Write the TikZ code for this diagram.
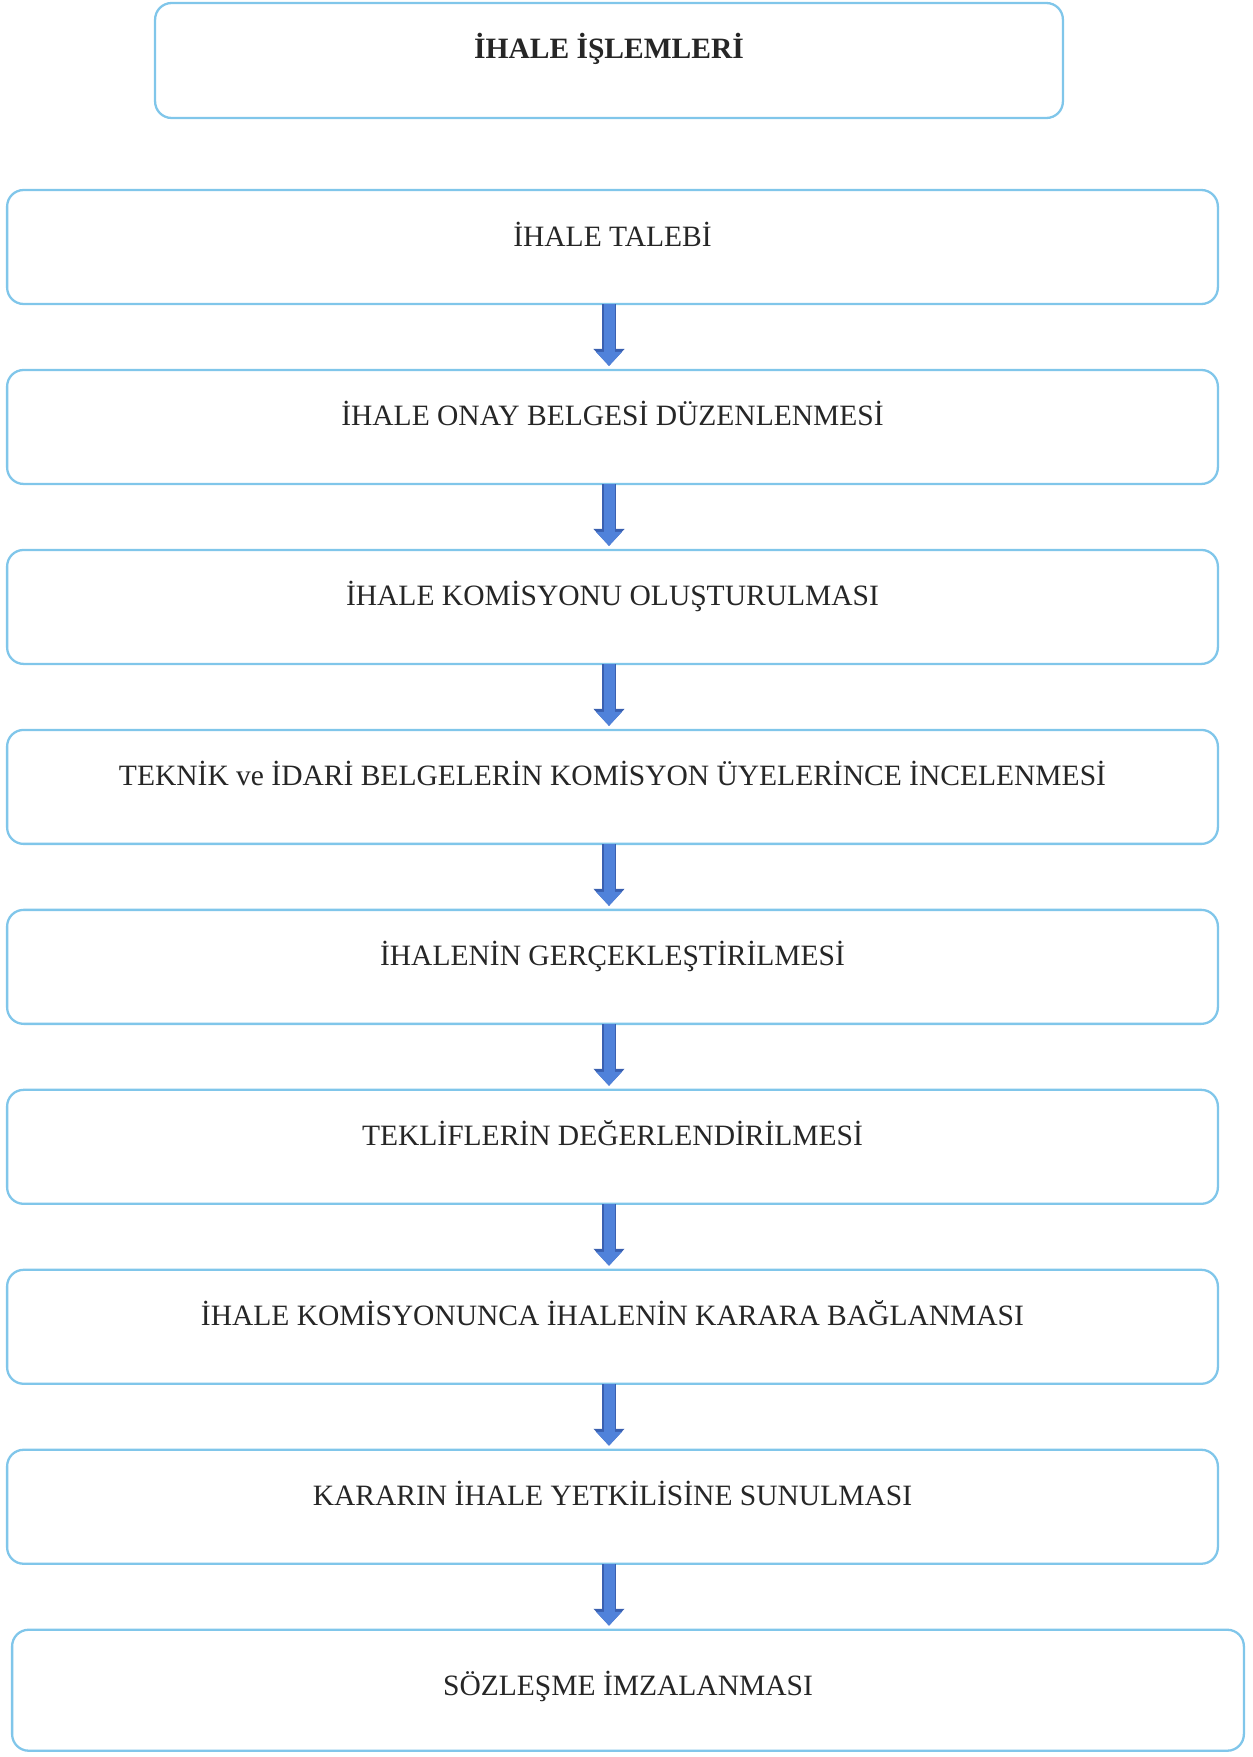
\documentclass[tikz,border=0pt]{standalone}
\usepackage{fontspec}
\setmainfont{Liberation Serif}
\usetikzlibrary{positioning, arrows.meta}
\definecolor{boxline}{RGB}{128,198,234}
\definecolor{arrowfill}{RGB}{80,130,218}
\definecolor{arrowline}{RGB}{58,96,176}
\definecolor{textgray}{RGB}{38,38,38}
\tikzset{
x=0.02cm, y=-0.02cm, % one unit is one pixel of the scan
node distance=1.32cm, % gap between two steps. Change if necessary.
stage/.style={draw=boxline, line width=1.3pt, rounded corners=0.33cm, fill=white, minimum width=24.22cm, inner sep=0pt, outer sep=0pt, text height=1.12cm, text depth=1.16cm, text=textgray, font=\fontsize{16.8}{20}\selectfont}, % sets the properties for each step box
titlebox/.style={stage, minimum width=18.16cm, text height=1.12cm, text depth=1.18cm}, % the heading box
flow/.style={line width=0.22cm, draw=arrowfill, shorten >=0.08cm, -{Triangle[width=0.5cm, length=0.28cm]}, preaction={draw=arrowline, line width=0.28cm, -{Triangle[width=0.6cm, length=0.34cm]}}}, % the thick blue arrows
}

\begin{document}
\begin{tikzpicture}
    \useasboundingbox (0,0) rectangle (1253,1757);
    \node[titlebox] (title) at (609,60.5) {\textbf{İHALE İŞLEMLERİ}};
    \node[stage] (talep) at (612.5,247) {İHALE TALEBİ};
    \node[stage, below=of talep] (onay) {İHALE ONAY BELGESİ DÜZENLENMESİ};
    \node[stage, below=of onay] (komisyon) {İHALE KOMİSYONU OLUŞTURULMASI};
    \node[stage, below=of komisyon] (inceleme) {TEKNİK ve İDARİ BELGELERİN KOMİSYON ÜYELERİNCE İNCELENMESİ};
    \node[stage, below=of inceleme] (ihale) {İHALENİN GERÇEKLEŞTİRİLMESİ};
    \node[stage, below=of ihale] (degerlendirme) {TEKLİFLERİN DEĞERLENDİRİLMESİ};
    \node[stage, below=of degerlendirme] (karar) {İHALE KOMİSYONUNCA İHALENİN KARARA BAĞLANMASI};
    \node[stage, below=of karar] (yetkili) {KARARIN İHALE YETKİLİSİNE SUNULMASI};
    \node[stage, below=of yetkili, xshift=0.31cm, minimum width=24.64cm, text height=1.32cm, text depth=1.1cm] (sozlesme) {SÖZLEŞME İMZALANMASI};
    \draw[flow] (talep.south -| title) -- (onay.north -| title);
    \draw[flow] (onay.south -| title) -- (komisyon.north -| title);
    \draw[flow] (komisyon.south -| title) -- (inceleme.north -| title);
    \draw[flow] (inceleme.south -| title) -- (ihale.north -| title);
    \draw[flow] (ihale.south -| title) -- (degerlendirme.north -| title);
    \draw[flow] (degerlendirme.south -| title) -- (karar.north -| title);
    \draw[flow] (karar.south -| title) -- (yetkili.north -| title);
    \draw[flow] (yetkili.south -| title) -- (sozlesme.north -| title);
  \end{tikzpicture}
\end{document}
